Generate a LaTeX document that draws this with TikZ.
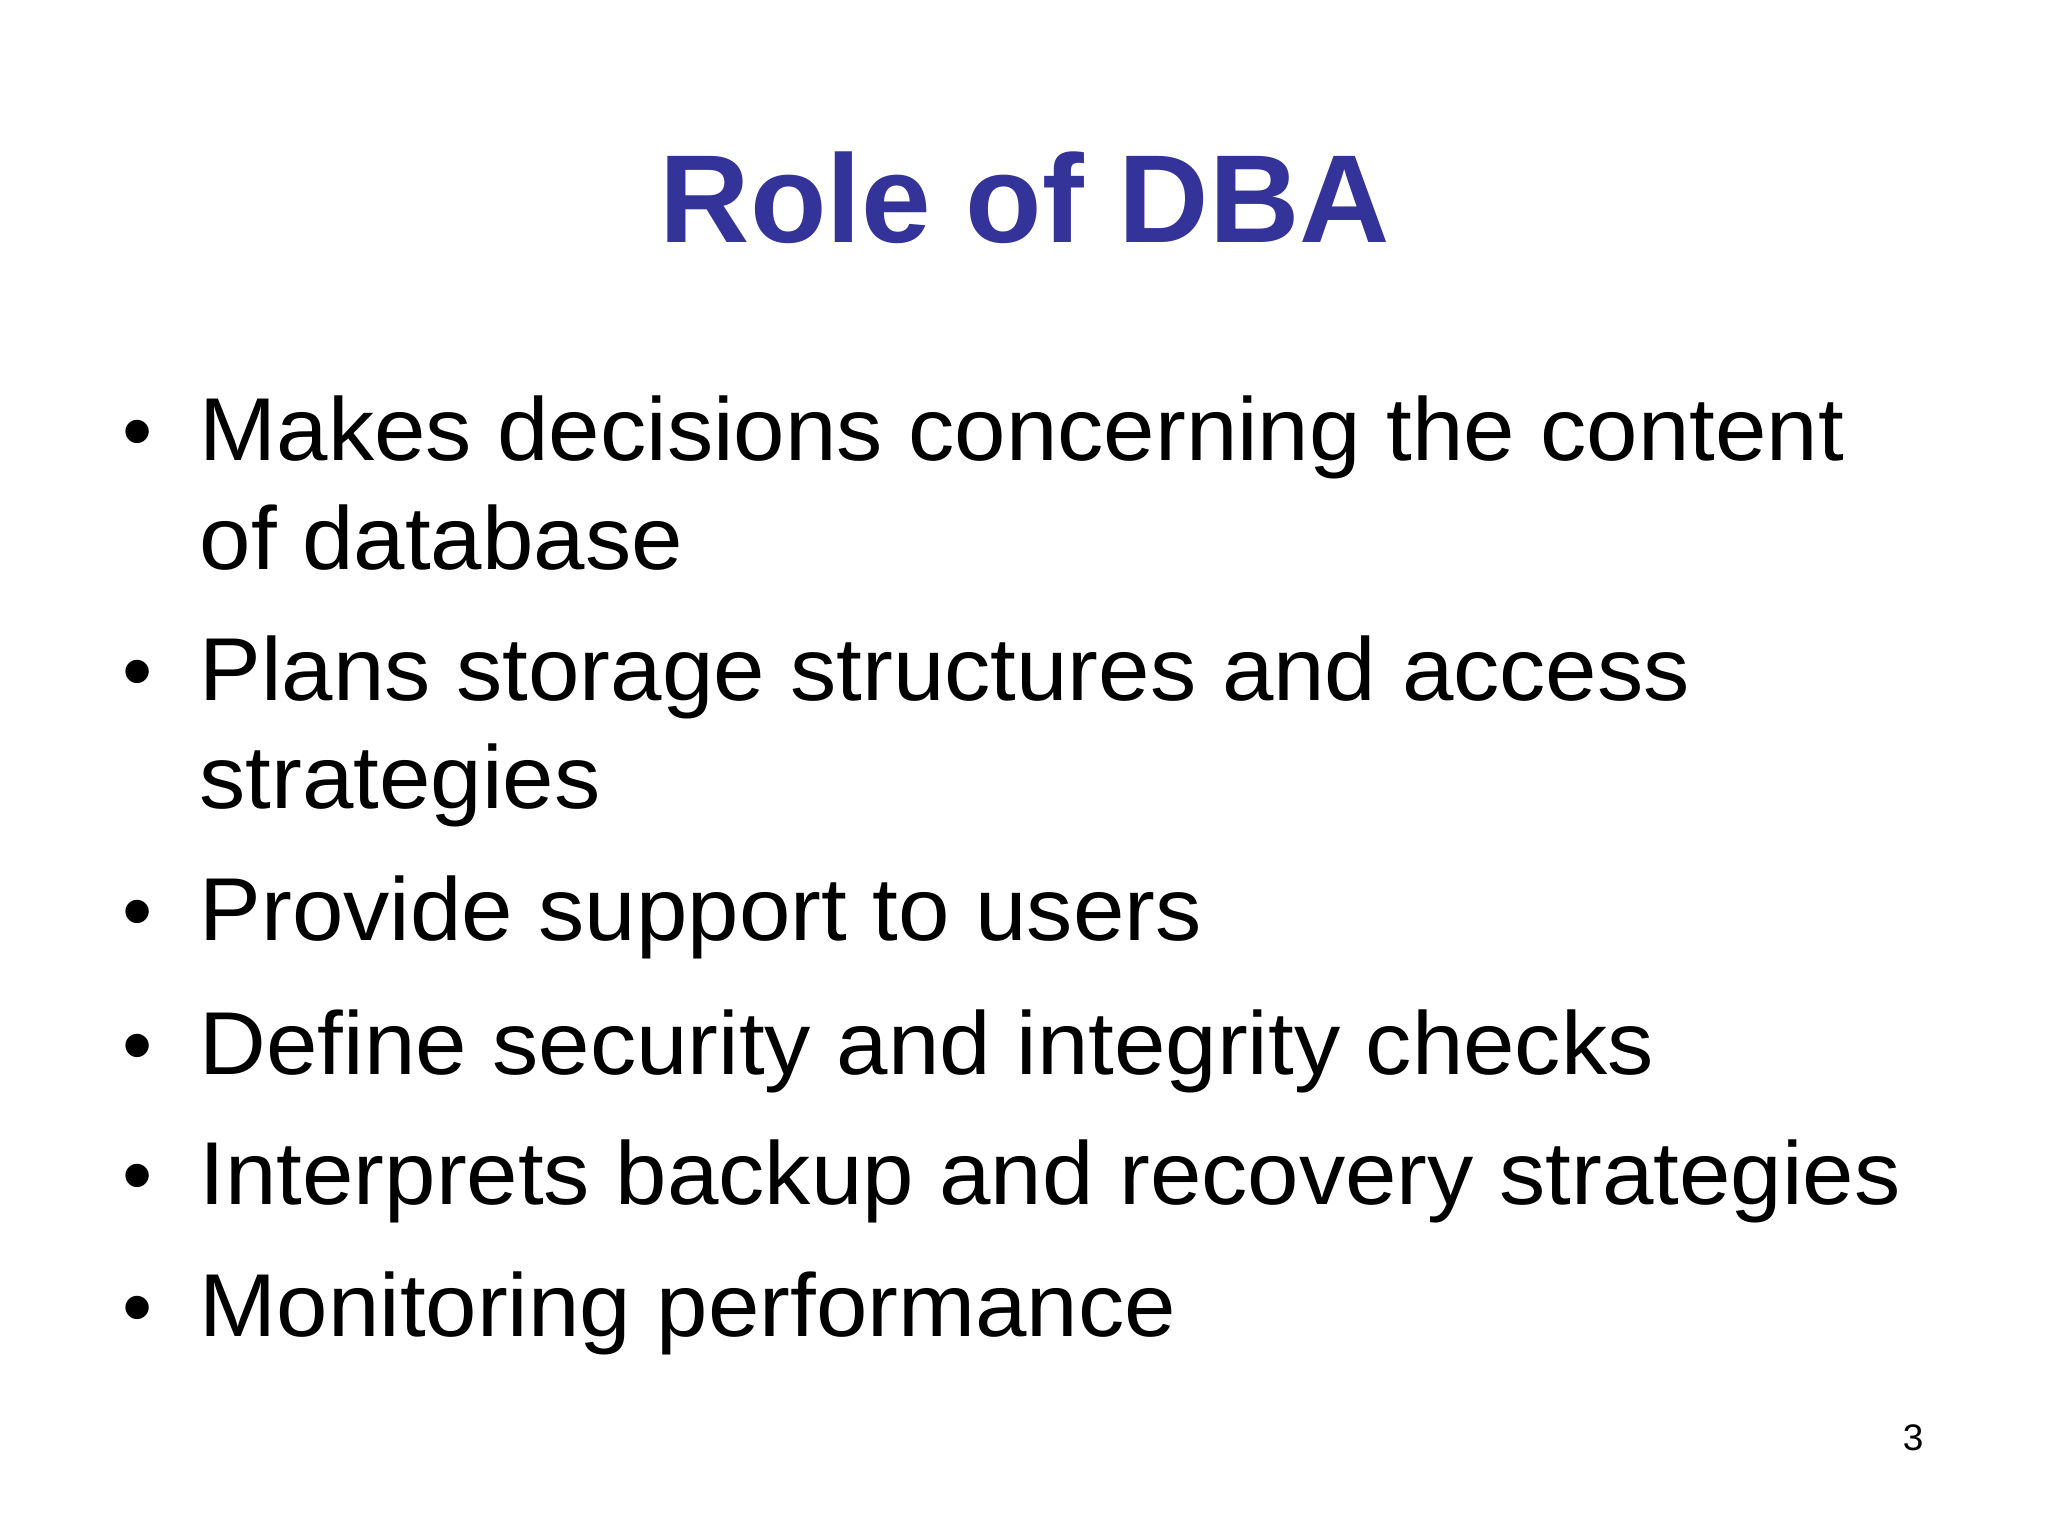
\documentclass[tikz,border=0pt]{standalone}
\usepackage{fontspec}
\setmainfont{Liberation Sans}
\newfontfamily\widesans[FakeStretch=1.035]{Liberation Sans}
\definecolor{titleblue}{HTML}{333399}
\begin{document}
\begin{tikzpicture}[x=0.01cm,y=-0.01cm,
  txt/.style={anchor=base west,inner sep=0pt,font=\widesans\fontsize{25.4pt}{29pt}\selectfont},
  bul/.style={anchor=base,inner sep=0pt,font=\fontsize{24.5pt}{29pt}\selectfont}]
\useasboundingbox (0,0) rectangle (2048,1536);
\node[anchor=base,inner sep=0pt,font=\fontsize{35.6pt}{40pt}\selectfont\bfseries,text=titleblue] (title) at (1025,242) {Role of DBA};
\foreach \n/\y/\t in {a/460/Makes decisions concerning the content, a2/569/of database,
  b/700/Plans storage structures and access, b2/808/strategies,
  c/940/Provide support to users, d/1074/Define security and integrity checks,
  e/1204/Interprets backup and recovery strategies, f/1336/Monitoring performance}
  \node[txt] (\n) at (199,\y) {\t};
\foreach \n/\y in {ba/460,bb/700,bc/940,bd/1074,be/1204,bf/1336}
  \node[bul] (\n) at (138,\y) {•};
\node[anchor=base,inner sep=0pt,font=\fontsize{10.5pt}{12pt}\selectfont] (pg) at (1913,1450) {3};
\end{tikzpicture}
\end{document}
